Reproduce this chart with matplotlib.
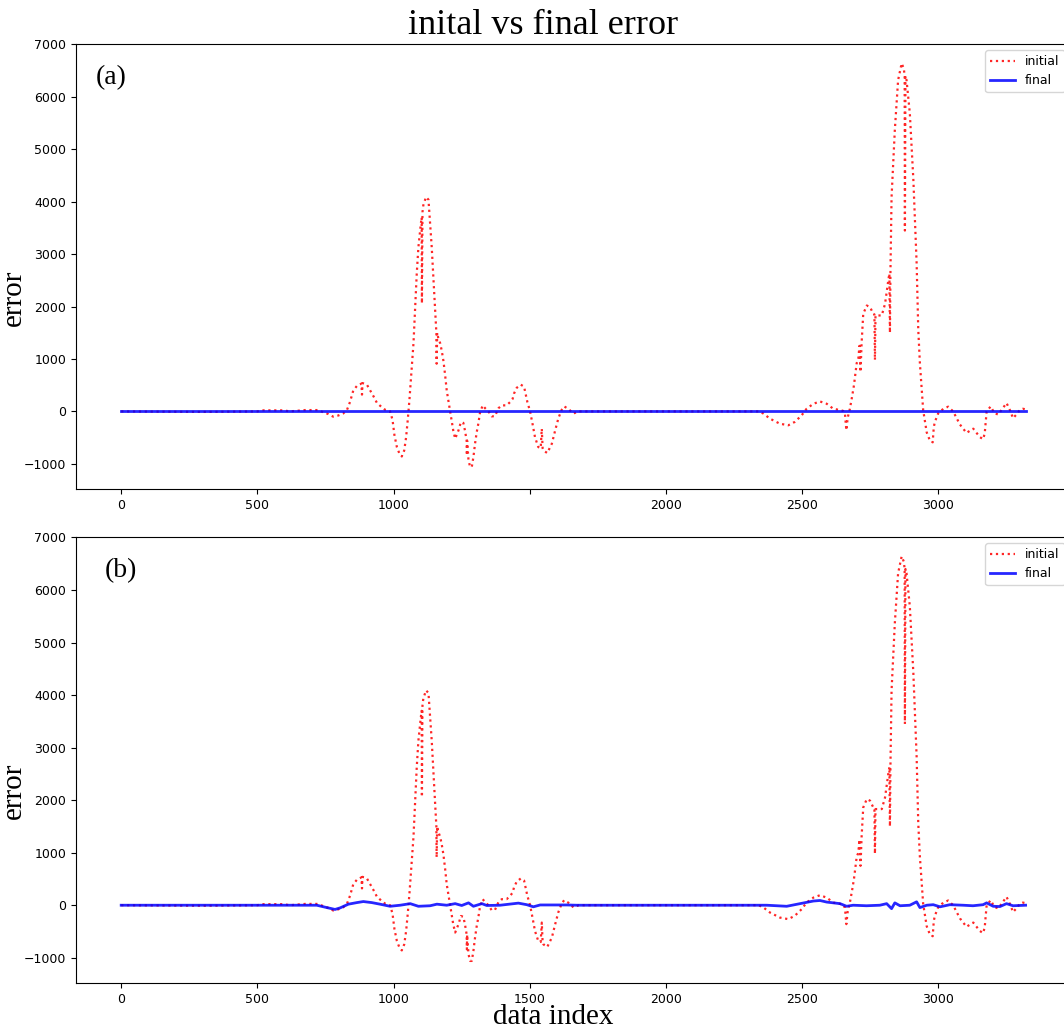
import matplotlib
matplotlib.use('Agg')
import matplotlib.pyplot as plt

# initial error (red dotted), same in both panels
init_x = [0, 300, 500, 517, 560, 594, 620, 675, 700, 723, 741, 760, 778, 796, 815,
          829, 840, 852, 866, 882, 884, 886, 902, 914, 926, 939, 950, 969, 987,
          996, 1003, 1012, 1021, 1030, 1039, 1046, 1052, 1058, 1064, 1073, 1085,
          1091, 1100, 1103, 1104, 1106, 1109, 1119, 1128, 1140, 1152, 1157, 1158,
          1160, 1164, 1171, 1177, 1183, 1189, 1195, 1205, 1214, 1219, 1226, 1238,
          1247, 1256, 1262, 1268, 1269, 1270, 1275, 1281, 1287, 1293, 1299, 1305,
          1311, 1317, 1327, 1336, 1348, 1360, 1372, 1385, 1397, 1415, 1428, 1437,
          1442, 1452, 1467, 1479, 1491, 1501, 1511, 1519, 1531, 1540, 1544, 1547,
          1550, 1564, 1581, 1593, 1605, 1617, 1626, 1641, 1660, 1680, 2340, 2357,
          2382, 2418, 2449, 2473, 2498, 2516, 2541, 2565, 2590, 2614, 2639, 2650,
          2657, 2662, 2667, 2675, 2683, 2690, 2700, 2706, 2710, 2714, 2718, 2724,
          2737, 2749, 2761, 2765, 2767, 2769, 2792, 2804, 2816, 2820, 2822, 2824,
          2828, 2840, 2852, 2865, 2873, 2876, 2877, 2879, 2883, 2895, 2908, 2920,
          2926, 2932, 2944, 2957, 2969, 2979, 2983, 2987, 2999, 3018, 3036, 3054,
          3079, 3103, 3128, 3152, 3164, 3170, 3177, 3192, 3205, 3219, 3235, 3250,
          3262, 3274, 3288, 3299, 3310, 3320]
init_y = [0, -10, 0, 20, 20, 20, 0, 25, 25, 25, -15, -50, -100, -80, -40,
          30, 180, 400, 490, 530, 320, 540, 510, 400, 290, 160, 110, 30, 0,
          -160, -450, -680, -800, -860, -745, -490, -160, 210, 655, 1300, 2630,
          3130, 3580, 3700, 2060, 3800, 3930, 4090, 4040, 3130, 1990, 1500, 910,
          1500, 1400, 1300, 1150, 960, 700, 400, 80, -205, -365, -520, -365,
          -205, -220, -365, -550, -840, -560, -935, -1060, -1060, -870, -615, -400,
          -235, -30, 115, 60, 0, -95, -90, 60, 115, 115, 180, 240,
          340, 450, 510, 470, 180, 0, -265, -490, -680, -700, -330, -700,
          -745, -795, -615, -365, -130, 30, 95, 50, -40, 0, 0, -40,
          -140, -235, -265, -200, -75, 50, 145, 190, 145, 50, 25, 10,
          -50, -360, -120, 50, 280, 500, 920, 1000, 1250, 750, 1300, 1860,
          2020, 1990, 1860, 1850, 980, 1830, 1830, 2050, 2500, 2630, 1500, 2700,
          4090, 5370, 6320, 6640, 6540, 6400, 3450, 6400, 6320, 5690, 4420, 2830,
          1560, 920, 25, -400, -560, -590, -300, -200, -40, 50, 90, 0,
          -250, -410, -330, -490, -530, -420, 0, 95, -30, -60, 50, 160,
          30, -130, -50, 30, 50, 40]

# final error, panel (a): flat
final_a_x = [0, 3320]
final_a_y = [0, 0]

# final error, panel (b)
final_b_x = [0, 700, 718, 755, 785, 804, 834, 865, 889, 920, 950, 987, 1024, 1061,
             1091, 1134, 1159, 1195, 1226, 1250, 1275, 1293, 1324, 1342, 1391,
             1458, 1489, 1513, 1538, 1636, 1672, 2370, 2443, 2492, 2541, 2565,
             2590, 2639, 2663, 2687, 2736, 2785, 2810, 2828, 2840, 2859, 2895,
             2920, 2932, 2957, 2981, 3006, 3042, 3091, 3127, 3164, 3177, 3201,
             3226, 3250, 3274, 3320]
final_b_y = [0, 0, 0, -45, -80, -50, 20, 50, 70, 50, 20, -20, 0, 30,
             -20, -10, 20, 0, 30, -5, 45, -20, 30, -5, 0,
             40, 10, -30, 5, 5, 0, 0, -20, 30, 80, 90,
             60, 30, -20, 0, -10, 0, 30, -65, 45, -10, 0,
             65, -45, 0, 10, -30, 10, 0, -10, 10, 45, -20,
             -25, 30, -10, 0]

yticks = [-1000, 0, 1000, 2000, 3000, 4000, 5000, 6000, 7000]
xticks = [0, 500, 1000, 1500, 2000, 2500, 3000]
xlabels_a = ['0', '500', '1000', '', '2000', '2500', '3000']
xlabels_b = ['0', '500', '1000', '1500', '2000', '2500', '3000']

fig = plt.figure(figsize=(10.64, 10.32), dpi=100)
ax1 = fig.add_axes([0.0714, 0.5262, 0.935, 0.4312])
ax2 = fig.add_axes([0.0714, 0.0475, 0.935, 0.4322])

panels = [(ax1, final_a_x, final_a_y, '(a)', xlabels_a, 0.02),
          (ax2, final_b_x, final_b_y, '(b)', xlabels_b, 0.029)]
for ax, fx, fy, tag, xl, tx in panels:
    ax.plot(init_x, init_y, 'r:', lw=1.6, alpha=0.85, label='initial')
    ax.plot(fx, fy, 'b-', lw=2, alpha=0.85, label='final')
    ax.set_xlim(-166, 3486)
    ax.set_ylim(-1480, 7010)
    ax.set_yticks(yticks)
    ax.set_xticks(xticks)
    ax.set_xticklabels(xl)
    ax.tick_params(labelsize=9)
    ax.set_ylabel('error', family='Liberation Serif', fontsize=21)
    ax.yaxis.set_label_coords(-0.049, 0.43)
    ax.text(tx, 0.925, tag, transform=ax.transAxes, family='Liberation Serif',
            fontsize=20, va='center')
    ax.legend(loc='upper right', fontsize=9)

fig.text(0.51, 0.975, 'inital vs final error', family='Liberation Serif',
         fontsize=26, ha='center', va='center')
fig.text(0.52, 0.002, 'data index', family='Liberation Serif',
         fontsize=21, ha='center', va='bottom')

plt.savefig('out.png')
